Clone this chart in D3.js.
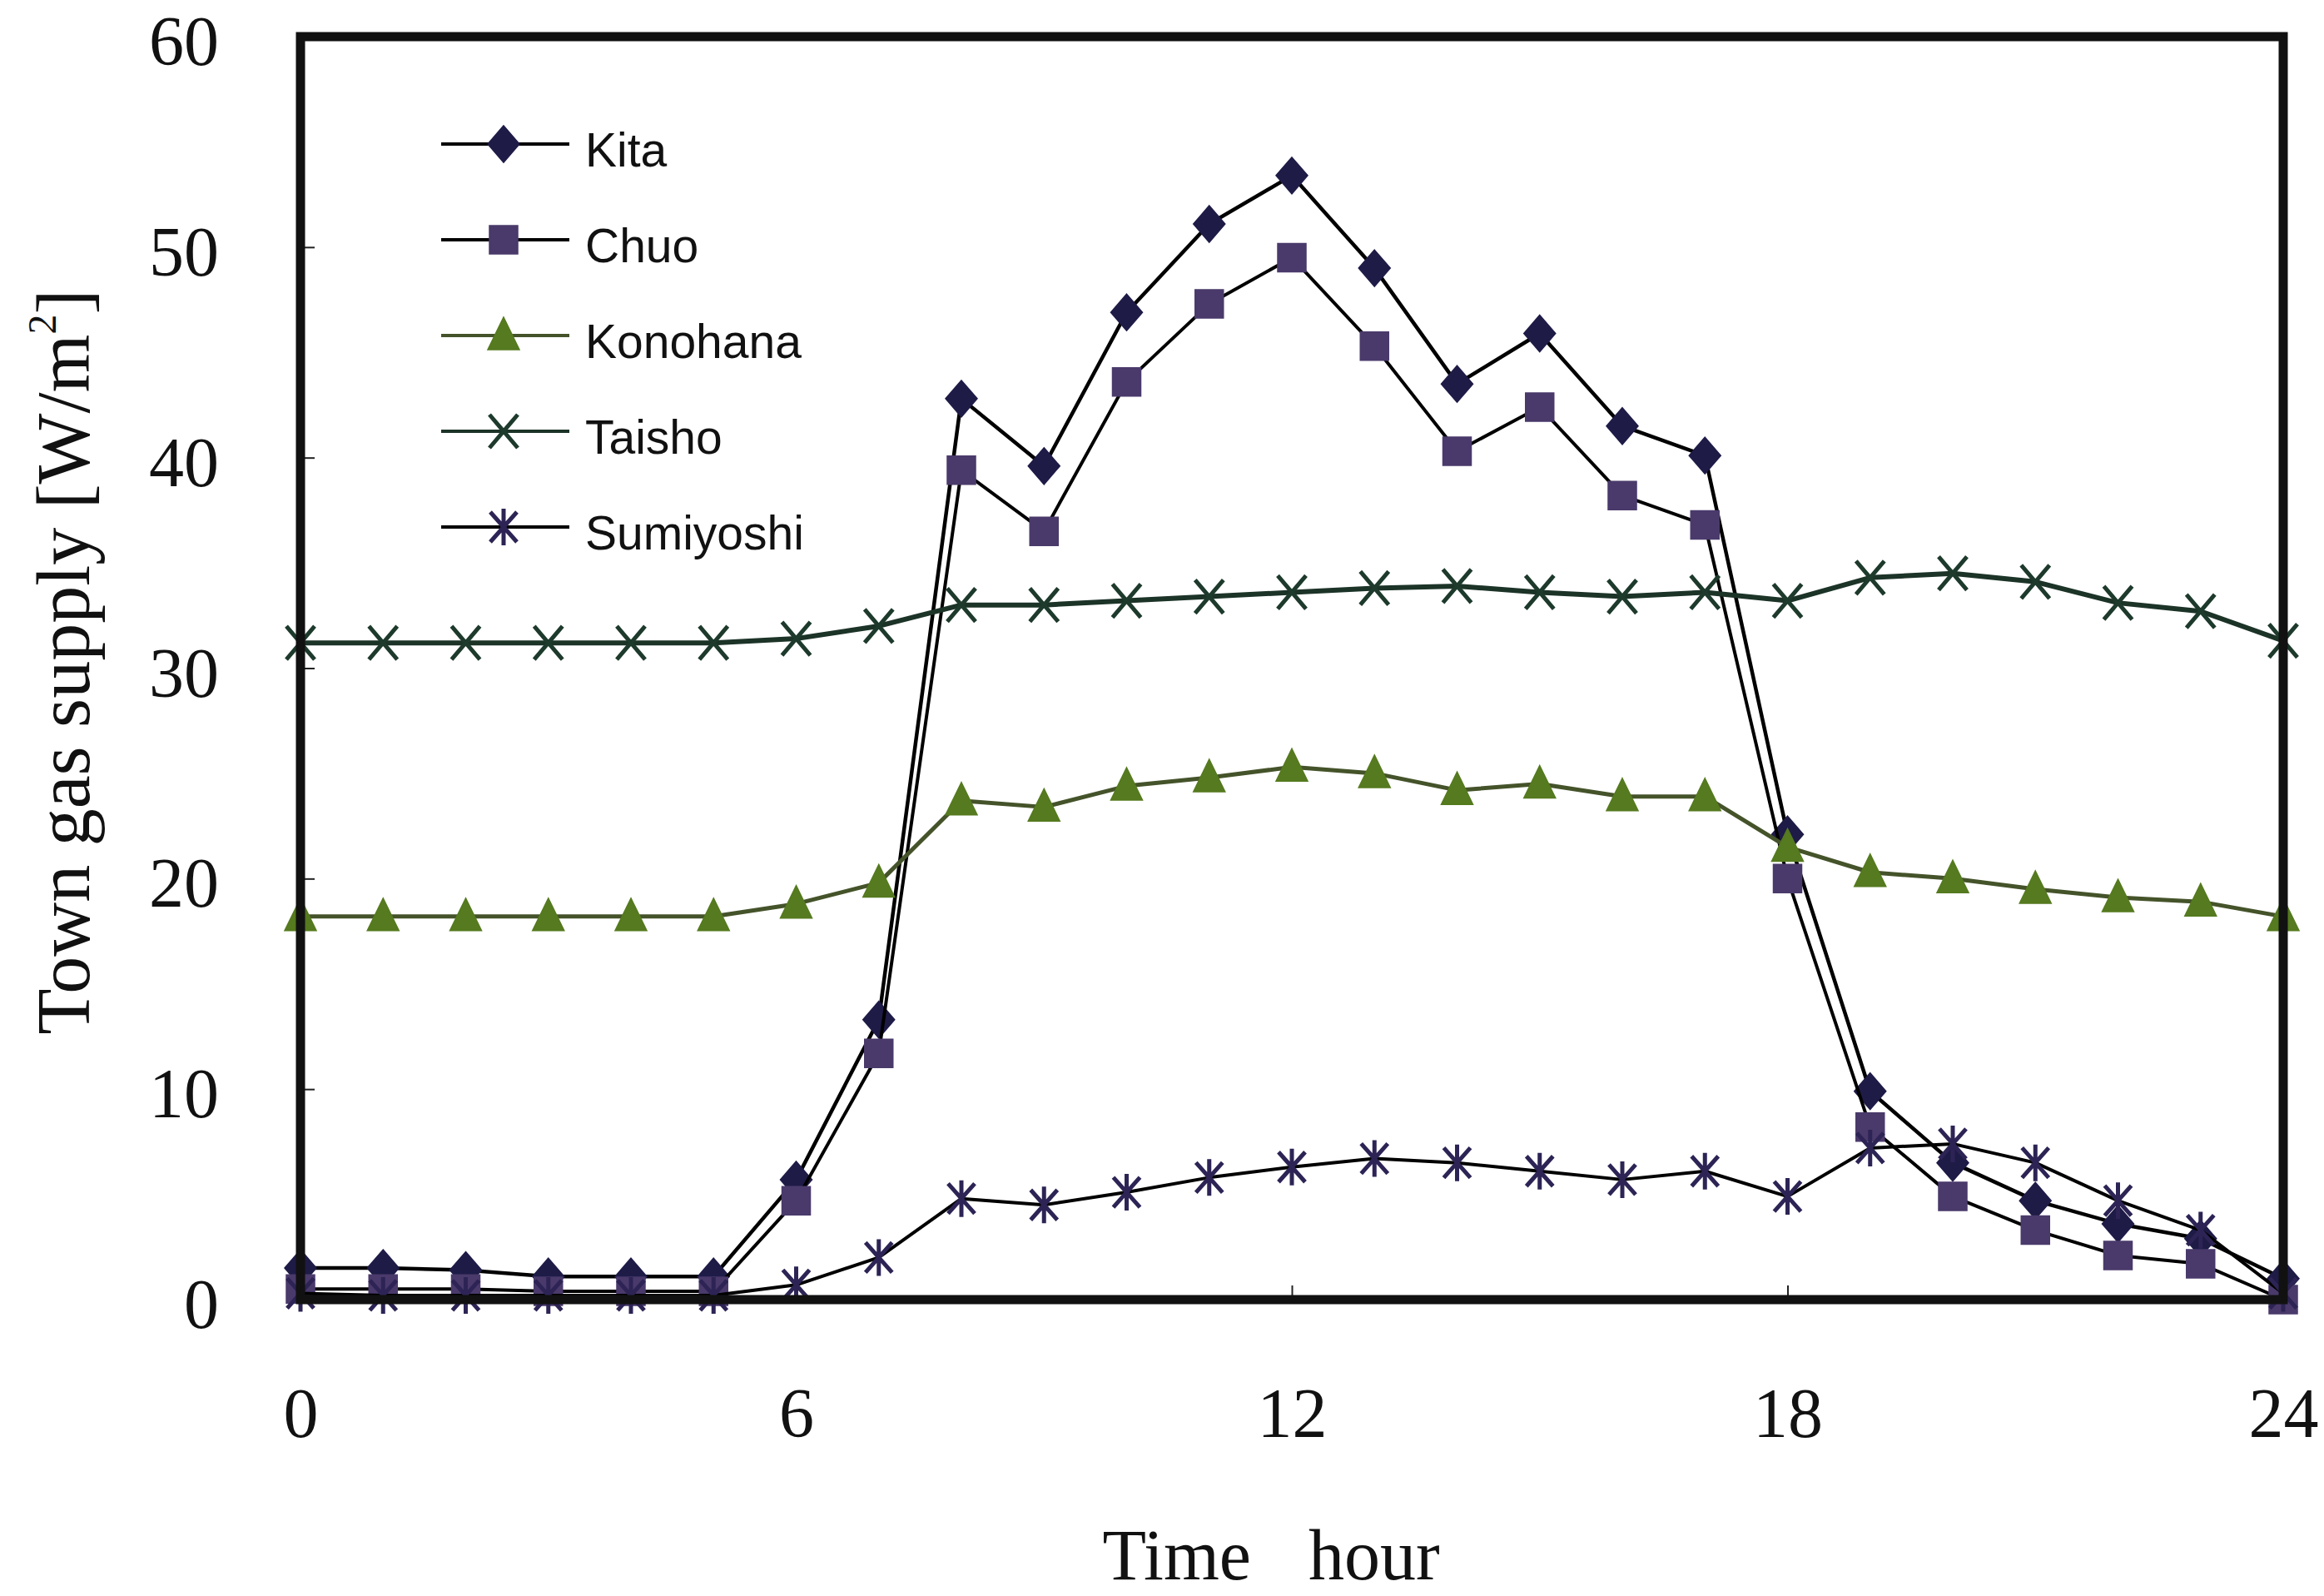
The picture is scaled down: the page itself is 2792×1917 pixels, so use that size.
<!DOCTYPE html>
<html>
<head>
<meta charset="utf-8">
<script src="https://cdn.jsdelivr.net/npm/d3@7"></script>
<style>
  body { margin: 0; background: #fff; }
  svg { display: block; }
</style>
</head>
<body>
<div id="chart-area"></div>
<script>
// hourly town gas supply per district [W/m2]
var hours = [0, 1, 2, 3, 4, 5, 6, 7, 8, 9, 10, 11, 12, 13, 14, 15, 16, 17, 18, 19, 20, 21, 22, 23, 24];
var kita = [1.5, 1.5, 1.4, 1.1, 1.1, 1.1, 5.7, 13.3, 42.8, 39.6, 46.9, 51.1, 53.4, 49.0, 43.5, 45.9, 41.5, 40.1, 22.1, 9.9, 6.5, 4.7, 3.6, 2.9, 1.0];
var chuo = [0.5, 0.5, 0.5, 0.4, 0.4, 0.4, 4.7, 11.7, 39.4, 36.5, 43.6, 47.3, 49.5, 45.3, 40.3, 42.4, 38.2, 36.8, 20.0, 8.2, 4.9, 3.3, 2.1, 1.7, 0.0];
var konohana = [18.2, 18.2, 18.2, 18.2, 18.2, 18.2, 18.8, 19.8, 23.7, 23.4, 24.4, 24.8, 25.3, 25.0, 24.2, 24.5, 23.9, 23.9, 21.5, 20.3, 20.0, 19.5, 19.1, 18.9, 18.2];
var taisho = [31.2, 31.2, 31.2, 31.2, 31.2, 31.2, 31.4, 32.0, 33.0, 33.0, 33.2, 33.4, 33.6, 33.8, 33.9, 33.6, 33.4, 33.6, 33.2, 34.3, 34.5, 34.1, 33.1, 32.7, 31.3];
var sumiyoshi = [0.3, 0.2, 0.2, 0.2, 0.2, 0.2, 0.7, 2.0, 4.8, 4.5, 5.1, 5.8, 6.3, 6.7, 6.5, 6.1, 5.7, 6.1, 4.9, 7.2, 7.4, 6.5, 4.7, 3.3, 0.3];

var seriesNames = ["Kita", "Chuo", "Konohana", "Taisho", "Sumiyoshi"];
var xTicks = [0, 6, 12, 18, 24];
var yTicks = [0, 10, 20, 30, 40, 50, 60];

var series = [
    {name: "Kita", values: kita, marker: "diamond", line: "#000", lw: 4.5, fill: "#1e1b47"},
    {name: "Chuo", values: chuo, marker: "square", line: "#000", lw: 4, fill: "#4a3a6b"},
    {name: "Konohana", values: konohana, marker: "triangle", line: "#45532a", lw: 5, fill: "#557a1f"},
    {name: "Taisho", values: taisho, marker: "cross", line: "#1c3328", lw: 6, fill: "#1d3a2c"},
    {name: "Sumiyoshi", values: sumiyoshi, marker: "star", line: "#000", lw: 4, fill: "#2d2455"}
];

var W = 2792, H = 1917;
var margin = {top: 44, right: 49, bottom: 356, left: 361};
var width = W - margin.left - margin.right;
var height = H - margin.top - margin.bottom;

var svg = d3.select("#chart-area")
    .append("svg")
        .attr("width", W)
        .attr("height", H);

var g = svg.append("g")
    .attr("transform", "translate(" + margin.left + ", " + margin.top + ")");

var x = d3.scaleLinear().domain([0, 24]).range([0, width]);
var y = d3.scaleLinear().domain([0, 60]).range([height, 0]);

var serif = "'Liberation Serif', 'Times New Roman', serif";

// axes: small inward ticks, labels far out
var yAxisCall = d3.axisLeft(y).tickValues(yTicks).tickSize(-17).tickPadding(98);
var xAxisCall = d3.axisBottom(x).tickValues(xTicks).tickSize(-17).tickPadding(105);

var yAxisGroup = g.append("g").attr("class", "y-axis").call(yAxisCall);
var xAxisGroup = g.append("g").attr("class", "x axis")
    .attr("transform", "translate(0, " + height + ")")
    .call(xAxisCall);

[xAxisGroup, yAxisGroup].forEach(function(ax) {
    ax.select(".domain").remove();
    ax.selectAll("line").attr("stroke", "#222").attr("stroke-width", 2);
    ax.selectAll("text")
        .attr("font-family", serif)
        .attr("font-size", "84px")
        .attr("fill", "#111");
});
yAxisGroup.selectAll("text").attr("dy", "0.4em");

// marker shapes
function markerPath(type) {
    if (type === "diamond") return "M0,-22L19,0L0,22L-19,0Z";
    if (type === "square") return "M-17,-17H17V17H-17Z";
    if (type === "triangle") return "M0,-22L19,17H-19Z";
    if (type === "cross") return "M-17,-20L17,20M17,-20L-17,20";
    return "M-16,-18L16,18M16,-18L-16,18M0,-22V22";
}

function drawMarker(sel, s) {
    var p = sel.append("path").attr("d", markerPath(s.marker));
    if (s.marker === "cross" || s.marker === "star") {
        p.attr("fill", "none").attr("stroke", s.fill).attr("stroke-width", 5);
    } else {
        p.attr("fill", s.fill).attr("stroke", s.fill).attr("stroke-width", 1.5);
    }
}

var line = d3.line()
    .x(function(d, i) { return x(hours[i]); })
    .y(function(d) { return y(d); });

series.forEach(function(s) {
    var sg = g.append("g").attr("class", "series");
    sg.append("path")
        .attr("d", line(s.values))
        .attr("fill", "none")
        .attr("stroke", s.line)
        .attr("stroke-width", s.lw)
        .attr("stroke-linejoin", "round");

    sg.selectAll("g.pt").data(s.values).enter().append("g")
        .attr("class", "pt")
        .attr("transform", function(d, i) { return "translate(" + x(hours[i]) + "," + y(d) + ")"; })
        .each(function() { drawMarker(d3.select(this), s); });
});

// frame
g.append("rect")
    .attr("x", 0).attr("y", 0)
    .attr("width", width).attr("height", height)
    .attr("fill", "none")
    .attr("stroke", "#111")
    .attr("stroke-width", 11);

// legend
var legend = svg.append("g").attr("transform", "translate(530, 173)");
series.forEach(function(s, i) {
    var lg = legend.append("g").attr("transform", "translate(0," + (i * 115) + ")");
    lg.append("line")
        .attr("x1", 0).attr("x2", 154)
        .attr("stroke", s.line)
        .attr("stroke-width", 4);
    var m = lg.append("g").attr("transform", "translate(75,0)");
    drawMarker(m, s);
    lg.append("text")
        .attr("x", 173).attr("y", 27)
        .attr("font-family", "'Liberation Sans', Arial, sans-serif")
        .attr("font-size", "57px")
        .attr("fill", "#111")
        .text(seriesNames[i]);
});

// axis titles
svg.append("text")
    .attr("x", 1503).attr("y", 1897)
    .attr("text-anchor", "end")
    .attr("font-family", serif).attr("font-size", "86px").attr("fill", "#111")
    .text("Time");
svg.append("text")
    .attr("x", 1572).attr("y", 1897)
    .attr("font-family", serif).attr("font-size", "86px").attr("fill", "#111")
    .text("hour");

var yTitle = svg.append("text")
    .attr("transform", "translate(107, 795) rotate(-90)")
    .attr("text-anchor", "middle")
    .attr("font-family", serif).attr("font-size", "90px").attr("fill", "#111");
yTitle.append("tspan").text("Town gas supply [W/m");
yTitle.append("tspan").attr("font-size", "48px").attr("dy", "-40").text("2");
yTitle.append("tspan").attr("dy", "40").text("]");
</script>
</body>
</html>
